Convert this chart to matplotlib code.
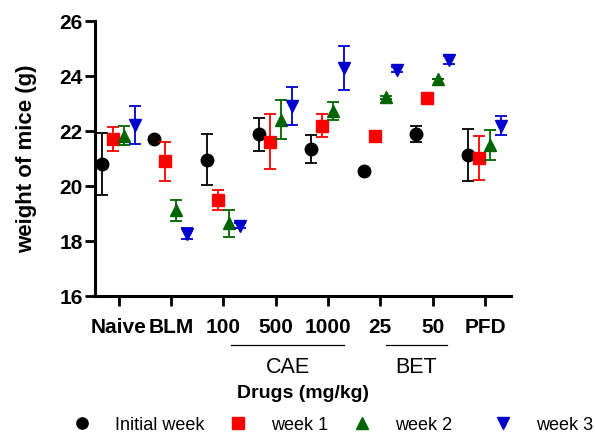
import numpy as np
import matplotlib
matplotlib.use("Agg")
import matplotlib.pyplot as plt
import matplotlib.transforms as mtransforms

plt.rcParams['font.family'] = ['Liberation Sans', 'DejaVu Sans']

groups = ["Naive", "BLM", "100", "500", "1000", "25", "50", "PFD"]
series = ["Initial week", "week 1", "week 2", "week 3"]

initial = [20.8, 21.7, 20.95, 21.87, 21.33, 20.55, 21.88, 21.12]
initial_sd = [1.13, 0.0, 0.92, 0.6, 0.5, 0.0, 0.29, 0.96]
week1 = [21.7, 20.89, 19.48, 21.6, 22.18, 21.8, 23.18, 21.0]
week1_sd = [0.42, 0.71, 0.38, 1.0, 0.42, 0.0, 0.0, 0.8]
week2 = [21.82, 19.1, 18.63, 22.4, 22.73, 23.21, 23.88, 21.48]
week2_sd = [0.35, 0.37, 0.48, 0.7, 0.33, 0.05, 0.0, 0.56]
week3 = [22.2, 18.26, 18.55, 22.9, 24.27, 24.22, 24.57, 22.18]
week3_sd = [0.7, 0.2, 0.1, 0.7, 0.8, 0.1, 0.15, 0.35]

values = [initial, week1, week2, week3]
sds = [initial_sd, week1_sd, week2_sd, week3_sd]
colors = ['black', '#ff0000', '#006400', '#0000cc']
markers = ['o', 's', '^', 'v']
offsets = [-0.32, -0.11, 0.1, 0.31]

fig = plt.figure(figsize=(5.95, 4.35), dpi=100)
ax = fig.add_axes([0.16, 0.318, 0.699, 0.632])

x = np.arange(len(groups))
handles = []
for v, s, c, m, off, lab in zip(values, sds, colors, markers, offsets, series):
    ax.errorbar(x + off, v, yerr=s, fmt='none', ecolor=c, elinewidth=1.3,
                capsize=4, capthick=1.3)
    h, = ax.plot(x + off, v, linestyle='none', marker=m, color=c,
                 markersize=9, label=lab)
    handles.append(h)

ax.set_xlim(-0.45, 7.5)
ax.set_ylim(16, 26)
ax.set_yticks([16, 18, 20, 22, 24, 26])
ax.set_xticks(x)
ax.set_xticklabels(groups, fontweight='bold', fontsize=15)
for t in ax.get_yticklabels():
    t.set_fontweight('bold')
    t.set_fontsize(15)
ax.tick_params(axis='both', direction='out', length=7, width=2, pad=2)
ax.tick_params(axis='x', pad=8)
for sp in ['top', 'right']:
    ax.spines[sp].set_visible(False)
for sp in ['left', 'bottom']:
    ax.spines[sp].set_linewidth(2.2)

ax.set_ylabel('weight of mice (g)', fontweight='bold', fontsize=16, labelpad=16)
ax.set_xlabel('Drugs (mg/kg)', fontweight='bold', fontsize=14, labelpad=35)

trans = mtransforms.blended_transform_factory(ax.transData, ax.transAxes)
ax.plot([2.15, 4.3], [-0.178, -0.178], color='black', lw=0.9,
        transform=trans, clip_on=False)
ax.plot([5.1, 6.27], [-0.178, -0.178], color='black', lw=0.9,
        transform=trans, clip_on=False)
ax.text(3.225, -0.256, 'CAE', transform=trans, ha='center', va='center', fontsize=15.5)
ax.text(5.685, -0.256, 'BET', transform=trans, ha='center', va='center', fontsize=15.5)

# legend entries placed one by one (uneven spacing in the original)
leg_x = [64, 220, 344, 485]
for h, lx in zip(handles, leg_x):
    fig.legend(handles=[h], loc='center left', bbox_to_anchor=(lx / 595, 0.022),
               frameon=False, fontsize=13, handletextpad=1.3, borderpad=0,
               markerscale=0.9, handlelength=1.0)

fig.savefig('out.png', dpi=100)
